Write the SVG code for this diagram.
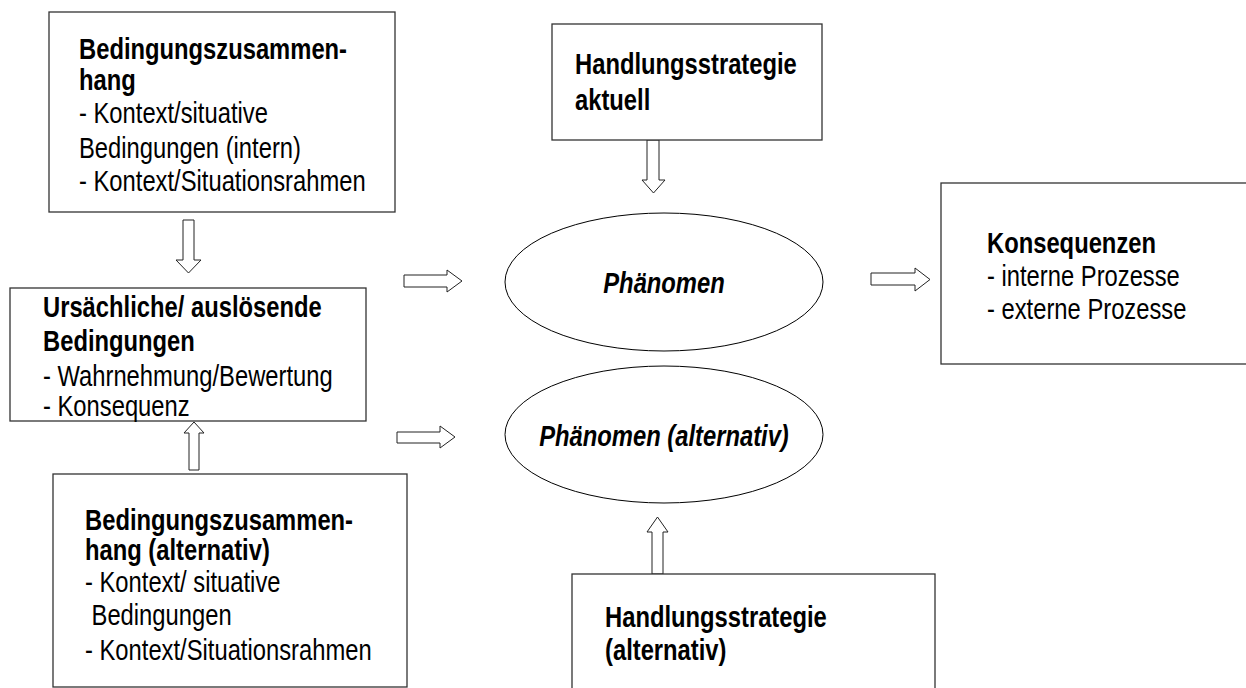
<svg xmlns="http://www.w3.org/2000/svg" width="1246" height="688" viewBox="0 0 1246 688">
  <style>
    .box { fill: #ffffff; stroke: #333333; stroke-width: 1.3; }
    .oval { fill: #ffffff; stroke: #000000; stroke-width: 1; }
    .arrow { fill: #ffffff; stroke: #222222; stroke-width: 1; stroke-linejoin: miter; }
    text { font-family: "Liberation Sans", Arial, sans-serif; font-size: 29px; fill: #000000; }
    .b { font-weight: bold; }
    .bi { font-weight: bold; font-style: italic; }
  </style>
  <rect width="1246" height="688" fill="#ffffff"/>

  <!-- block arrows -->
  <g id="connectors">
    <polygon class="arrow" points="183,220 194,220 194,260 201,260 188.5,273 176,260 183,260"/>
    <polygon class="arrow" points="647,140 659,140 659,180 665,180 653.5,193 642,180 647,180"/>
    <polygon class="arrow" points="404,275 447,275 447,270 462,281 447,292 447,287 404,287"/>
    <polygon class="arrow" points="397,432 440,432 440,426 455,437 440,448 440,443 397,443"/>
    <polygon class="arrow" points="871,273 915,273 915,268 930,279.5 915,291 915,285 871,285"/>
    <polygon class="arrow" points="189,470 199,470 199,433 204,433 194,422 184,433 189,433"/>
    <polygon class="arrow" points="652,574 663,574 663,532 668,532 657.5,517 647,532 652,532"/>
  </g>

  <g id="bedingungszusammenhang">
    <rect class="box" x="49" y="12" width="346" height="200"/>
    <text transform="translate(79 0) scale(0.82 1)">
      <tspan class="b" x="0" y="59">Bedingungszusammen-</tspan>
      <tspan class="b" x="0" y="90">hang</tspan>
      <tspan x="0" y="123">- Kontext/situative</tspan>
      <tspan x="0" y="158">Bedingungen (intern)</tspan>
      <tspan x="0" y="191">- Kontext/Situationsrahmen</tspan>
    </text>
  </g>

  <g id="ursaechliche-bedingungen">
    <rect class="box" x="10" y="288" width="356" height="133"/>
    <text transform="translate(43 0) scale(0.82 1)">
      <tspan class="b" x="0" y="317">Ursächliche/ auslösende</tspan>
      <tspan class="b" x="0" y="351">Bedingungen</tspan>
      <tspan x="0" y="386">- Wahrnehmung/Bewertung</tspan>
      <tspan x="0" y="416">- Konsequenz</tspan>
    </text>
  </g>

  <g id="bedingungszusammenhang-alternativ">
    <rect class="box" x="53" y="474" width="354" height="213"/>
    <text transform="translate(85 0) scale(0.82 1)">
      <tspan class="b" x="0" y="530">Bedingungszusammen-</tspan>
      <tspan class="b" x="0" y="560">hang (alternativ)</tspan>
      <tspan x="0" y="592">- Kontext/ situative</tspan>
      <tspan x="8" y="625">Bedingungen</tspan>
      <tspan x="0" y="660">- Kontext/Situationsrahmen</tspan>
    </text>
  </g>

  <g id="handlungsstrategie-aktuell">
    <rect class="box" x="552" y="24" width="270" height="116"/>
    <text class="b" transform="translate(575 0) scale(0.82 1)">
      <tspan x="0" y="74">Handlungsstrategie</tspan>
      <tspan x="0" y="110">aktuell</tspan>
    </text>
  </g>

  <g id="phaenomen">
    <ellipse class="oval" cx="664" cy="282" rx="159" ry="69"/>
    <text class="bi" text-anchor="middle" transform="translate(664 0) scale(0.82 1)" x="0" y="293">Phänomen</text>
  </g>

  <g id="phaenomen-alternativ">
    <ellipse class="oval" cx="664" cy="434.5" rx="159" ry="68.5"/>
    <text class="bi" text-anchor="middle" transform="translate(664 0) scale(0.82 1)" x="0" y="446">Phänomen (alternativ)</text>
  </g>

  <g id="konsequenzen">
    <rect class="box" x="941" y="183" width="310" height="181"/>
    <text transform="translate(987 0) scale(0.82 1)">
      <tspan class="b" x="0" y="253">Konsequenzen</tspan>
      <tspan x="0" y="286">- interne Prozesse</tspan>
      <tspan x="0" y="319">- externe Prozesse</tspan>
    </text>
  </g>

  <g id="handlungsstrategie-alternativ">
    <rect class="box" x="572" y="574" width="363" height="120"/>
    <text class="b" transform="translate(605 0) scale(0.82 1)">
      <tspan x="0" y="627">Handlungsstrategie</tspan>
      <tspan x="0" y="660">(alternativ)</tspan>
    </text>
  </g>
</svg>
